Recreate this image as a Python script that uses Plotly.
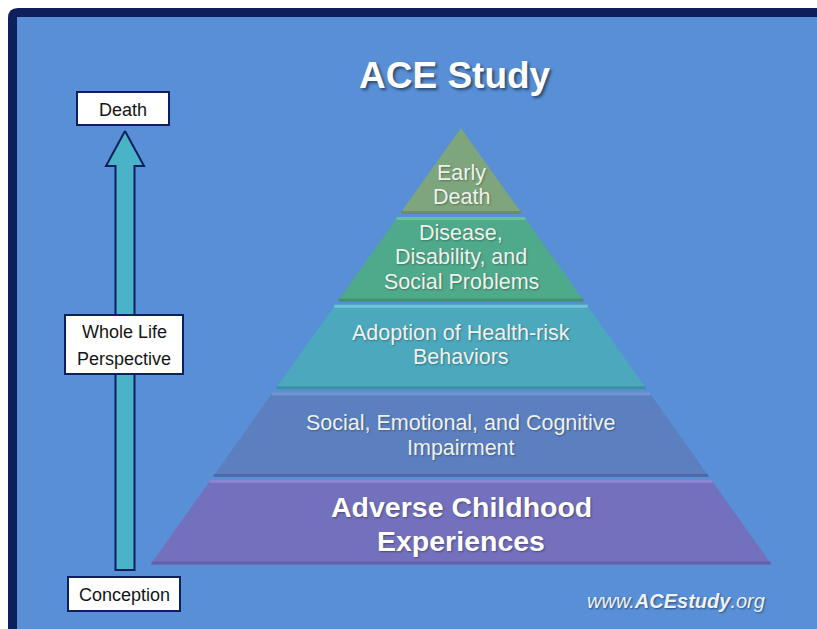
import plotly.graph_objects as go

# ---- data ----
layer_labels = [
    ["Early", "Death"],
    ["Disease,", "Disability, and", "Social Problems"],
    ["Adoption of Health-risk", "Behaviors"],
    ["Social, Emotional, and Cognitive", "Impairment"],
    ["Adverse Childhood", "Experiences"],
]
layer_colors = ["#7ea57b", "#4fa98b", "#4ba8bd", "#5c7fc0", "#7370bd"]
layer_hi = ["#93bb8c", "#66c09c", "#6cc6d6", "#7296d2", "#8a84d2"]
layer_lo = ["#6a8f68", "#3f9176", "#3c8fa3", "#4d6aa6", "#6360a6"]
life_labels = [["Death"], ["Whole Life", "Perspective"], ["Conception"]]
title_text = "ACE Study"
site_text = "<i>www.<b>ACEstudy</b>.org</i>"

W, H = 817, 629
BG = "#588fd7"
NAVY = "#0d1f5c"
FONT = "Liberation Sans, Arial, sans-serif"

fig = go.Figure()


def add_lines(lines, cx, cy, spacing, font):
    k = len(lines)
    for j, t in enumerate(lines):
        fig.add_annotation(x=cx, y=cy + (j - (k - 1) / 2) * spacing, text=t, showarrow=False,
                           font=font, xanchor="center", yanchor="middle")


# pyramid geometry
apex_x, apex_y, base_y, base_half = 461, 128, 566, 311.5
n = len(layer_labels)
lh = (base_y - apex_y) / n
slope = base_half / (base_y - apex_y)


def half(y):
    return (y - apex_y) * slope


text_shift = [14, -2, -2, 1, 2]
for i, (lab, col) in enumerate(zip(layer_labels, layer_colors)):
    yt = apex_y + i * lh + (1.5 if i > 0 else 0)
    yb = apex_y + (i + 1) * lh - 1.5
    xs = [apex_x - half(yt), apex_x + half(yt), apex_x + half(yb), apex_x - half(yb), apex_x - half(yt)]
    ys = [yt, yt, yb, yb, yt]
    fig.add_trace(go.Scatter(x=xs, y=ys, fill="toself", fillcolor=col, mode="lines",
                             line=dict(width=0, color=col), hoverinfo="skip", showlegend=False))
    if i > 0:
        fig.add_trace(go.Scatter(x=[apex_x - half(yt + 1.5), apex_x + half(yt + 1.5)], y=[yt + 1.5, yt + 1.5],
                                 mode="lines", line=dict(width=3, color=layer_hi[i]),
                                 hoverinfo="skip", showlegend=False))
    fig.add_trace(go.Scatter(x=[apex_x - half(yb - 1.5), apex_x + half(yb - 1.5)], y=[yb - 1.5, yb - 1.5],
                             mode="lines", line=dict(width=3, color=layer_lo[i]),
                             hoverinfo="skip", showlegend=False))
    last = i == n - 1
    cy = (yt + yb) / 2 + text_shift[i]
    if last:
        add_lines(["<b>%s</b>" % t for t in lab], apex_x, cy, 34,
                  dict(family=FONT, size=28.5, color="#ffffff", shadow="1px 1px 2px rgba(0,0,0,0.35)"))
    else:
        add_lines(lab, apex_x, cy, 24.5,
                  dict(family=FONT, size=21.5, color="#eef2ee", shadow="1px 1px 2px rgba(0,0,0,0.3)"))

# arrow (timeline)
ax, shaft_half, head_half = 125, 9.5, 19
tip_y, head_base_y, tail_y = 131, 166, 570
axs = [ax, ax + head_half, ax + shaft_half, ax + shaft_half, ax - shaft_half, ax - shaft_half, ax - head_half, ax]
ays = [tip_y, head_base_y, head_base_y, tail_y, tail_y, head_base_y, head_base_y, tip_y]
fig.add_trace(go.Scatter(x=axs, y=ays, fill="toself", fillcolor="#4bb3c7", mode="lines",
                         line=dict(width=2, color=NAVY), hoverinfo="skip", showlegend=False))

# life boxes
boxes = [(77, 169, 92, 125), (65, 183, 315, 374), (68, 180, 577, 611)]
for lab, (x0, x1, y0, y1) in zip(life_labels, boxes):
    fig.add_shape(type="rect", x0=x0, x1=x1, y0=y0, y1=y1, xref="x", yref="y",
                  fillcolor="white", line=dict(color=NAVY, width=2), layer="above")
    add_lines(lab, (x0 + x1) / 2, (y0 + y1) / 2 + 1, 26.5,
              dict(family=FONT, size=18, color="#151515"))

# title and site
fig.add_annotation(x=455, y=75, text="<b>%s</b>" % title_text, showarrow=False,
                   font=dict(family=FONT, size=37, color="white", shadow="2px 2px 3px rgba(0,0,0,0.5)"),
                   xanchor="center", yanchor="middle")
fig.add_annotation(x=676, y=601, text=site_text, showarrow=False,
                   font=dict(family=FONT, size=20, color="#eef2fa", shadow="1px 1px 2px rgba(0,0,0,0.45)"),
                   xanchor="center", yanchor="middle")

# frame
fig.add_shape(type="path", xref="x", yref="y", layer="below",
              path="M 8 18 Q 8 8 18 8 L 840 8 L 840 650 L 8 650 Z",
              fillcolor=NAVY, line=dict(width=0))
fig.add_shape(type="rect", xref="x", yref="y", layer="below",
              x0=17, x1=840, y0=17, y1=650, fillcolor=BG, line=dict(width=0))

fig.update_xaxes(range=[0, W], visible=False, fixedrange=True)
fig.update_yaxes(range=[H, 0], visible=False, fixedrange=True)
fig.update_layout(width=W, height=H, margin=dict(l=0, r=0, t=0, b=0),
                  paper_bgcolor="white", plot_bgcolor="white", showlegend=False)

fig.write_html("out.html", config={"displayModeBar": False},
               post_script="document.body.style.margin='0';document.body.style.overflow='hidden';")
